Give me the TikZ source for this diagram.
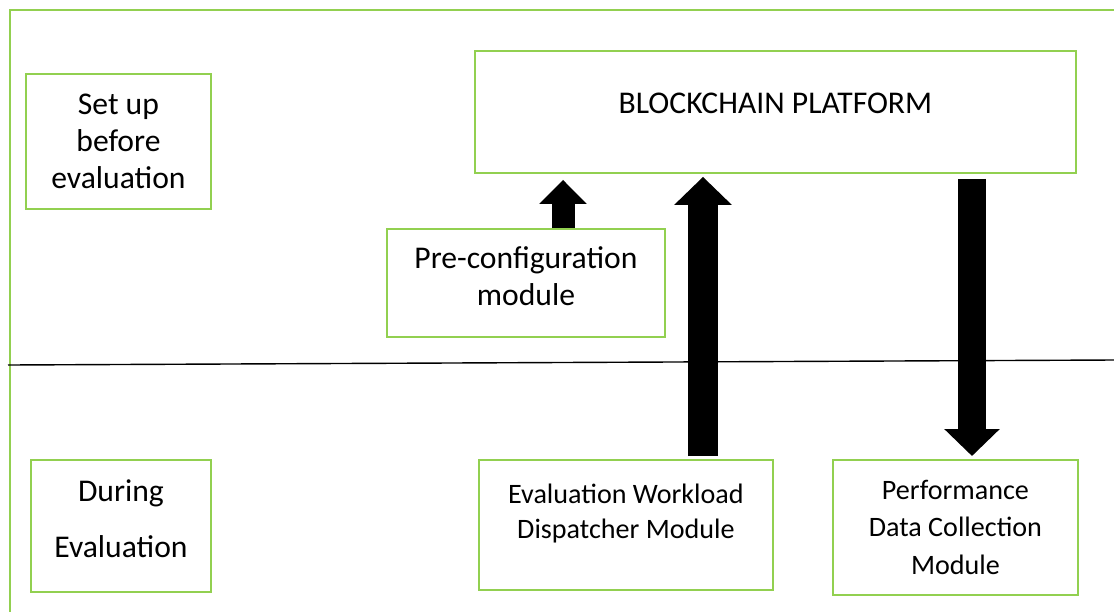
\documentclass[tikz,border=0pt]{standalone}
\usepackage{fontspec}
\setmainfont{Carlito}
\usetikzlibrary{arrows.meta}
\definecolor{boxgreen}{RGB}{146,208,80}
\tikzset{
  box/.style={draw=boxgreen, line width=1.1pt, anchor=north west, align=center, inner sep=0pt},
  bigtext/.style={font=\fontsize{18}{21}\selectfont},
  smalltext/.style={font=\fontsize{16}{20}\selectfont},
  fatarrow/.style n args={3}{line width=#1, -{Triangle[length=#2,width=#3]}}
}
\begin{document}
\begin{tikzpicture}[x=0.02cm,y=-0.02cm]
\useasboundingbox (0,0) rectangle (1114,612);
% frame and divider
\draw [boxgreen, line width=1.1pt] (1114,10) -- (10,10) -- (10,612);
\draw [line width=0.8pt] (8,365) -- (1114,360);
% boxes
\node (setup) [box, bigtext, minimum width=3.7cm, minimum height=2.7cm] at (25,73) {Set up\\before\\evaluation};
\node (chain) [box, bigtext, minimum width=12.02cm, minimum height=2.44cm] at (474,50) {BLOCKCHAIN PLATFORM\\[-11pt]};
\node (pre) [box, bigtext, minimum width=5.56cm, minimum height=2.16cm] at (386,228) {Pre-configuration\\module\\[-13pt]};
\node (during) [box, bigtext, minimum width=3.6cm, minimum height=2.64cm] at (30,459) {During\\[11pt]Evaluation\\[-13pt]};
\node (work) [box, smalltext, minimum width=5.88cm, minimum height=2.6cm] at (478,459) {Evaluation Workload\\Dispatcher Module\\[-4pt]};
\node (perf) [box, font=\fontsize{16}{21.6}\selectfont, minimum width=4.9cm, minimum height=2.7cm] at (832,459) {Performance\\Data Collection\\Module};
% arrows
\coordinate (s1) at (563,0);
\coordinate (s2) at (703,0);
\coordinate (s3) at (972,0);
\draw [fatarrow={0.46cm}{0.48cm}{0.92cm}, shorten >=0.12cm] (pre.north -| s1) -- (chain.south -| s1);
\draw [fatarrow={0.6cm}{0.56cm}{1.12cm}, shorten <=0.06cm, shorten >=0.06cm] (work.north -| s2) -- (chain.south -| s2);
\draw [fatarrow={0.56cm}{0.54cm}{1.08cm}, shorten <=0.1cm, shorten >=0.06cm] (chain.south -| s3) -- (perf.north -| s3);
\end{tikzpicture}
\end{document}
